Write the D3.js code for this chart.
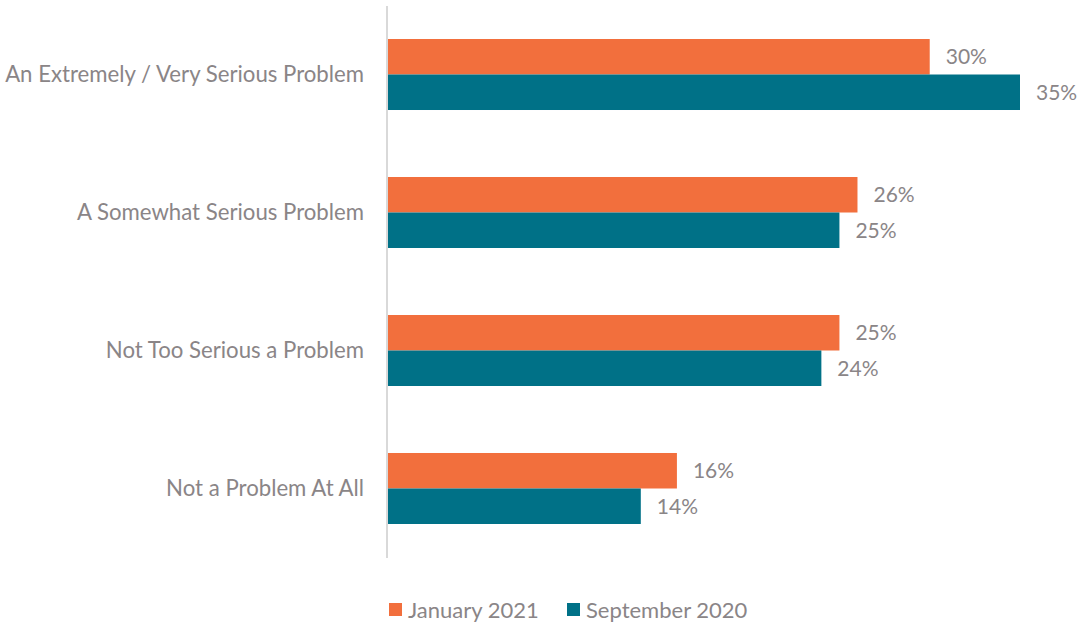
<!DOCTYPE html>
<html><head><meta charset="utf-8">
<script src="https://cdn.jsdelivr.net/npm/d3@7"></script>
<style>body{margin:0;background:#fff;}svg{display:block;}</style>
</head><body>
<svg id="c" width="1081" height="623"></svg>
<script>
const categories = ["An Extremely / Very Serious Problem","A Somewhat Serious Problem","Not Too Serious a Problem","Not a Problem At All"];
const seriesNames = ["January 2021","September 2020"];
const jan2021 = [30,26,25,16];
const sep2020 = [35,25,24,14];
const colors = ["#F26F3D","#007187"];
const values = [jan2021, sep2020];

const svg = d3.select("#c");
const font = "Lato, 'Open Sans', sans-serif";
const x = d3.scaleLinear().domain([0,35]).range([388,1020]);
const y = d3.scaleBand().domain(categories).range([5,558]).paddingInner(0.4855).paddingOuter(0.2464);
const sub = d3.scaleBand().domain(seriesNames).range([0,y.bandwidth()]);

svg.append("line").attr("x1",387).attr("x2",387).attr("y1",6).attr("y2",558)
  .attr("stroke","#d9d9d9").attr("stroke-width",2);

seriesNames.forEach((s,si)=>{
  const g = svg.append("g");
  g.selectAll("rect").data(categories).join("rect")
    .attr("x",x(0)).attr("y",d=>y(d)+sub(s))
    .attr("width",(d,i)=>x(values[si][i])-x(0)).attr("height",sub.bandwidth())
    .attr("fill",colors[si]);
  g.selectAll("text").data(categories).join("text")
    .attr("x",(d,i)=>x(values[si][i])+16).attr("y",d=>y(d)+sub(s)+sub.bandwidth()/2)
    .attr("dy","0.35em").attr("font-family",font).attr("font-size",21).attr("fill","#8a8587")
    .text((d,i)=>values[si][i]+"%");
});

svg.append("g").selectAll("text").data(categories).join("text")
  .attr("x",364).attr("y",d=>y(d)+y.bandwidth()/2).attr("dy","0.35em")
  .attr("text-anchor","end").attr("font-family",font).attr("font-size",22.2).attr("fill","#8a8587")
  .text(d=>d);

const legX = [389,567];
seriesNames.forEach((s,i)=>{
  svg.append("rect").attr("x",legX[i]).attr("y",603).attr("width",13).attr("height",13).attr("fill",colors[i]);
  svg.append("text").attr("x",legX[i]+19).attr("y",610).attr("dy","0.35em")
    .attr("font-family",font).attr("font-size",22).attr("fill","#8a8587").text(s);
});
</script>
</body></html>
